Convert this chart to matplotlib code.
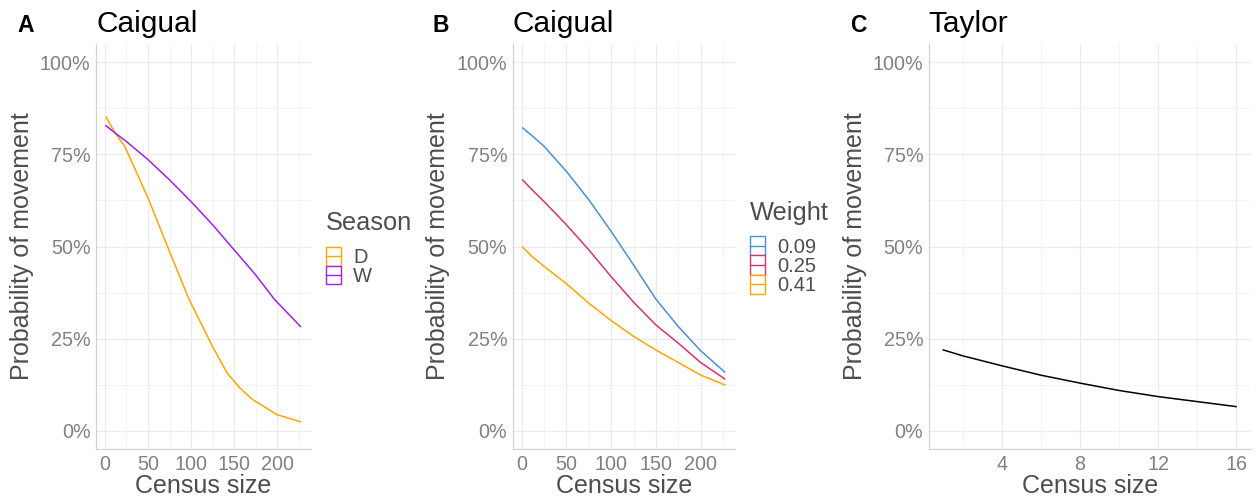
import matplotlib
matplotlib.use("Agg")
import matplotlib.pyplot as plt
from matplotlib.patches import Rectangle
from matplotlib.lines import Line2D
from matplotlib.ticker import FixedLocator, FuncFormatter

# ---- data -------------------------------------------------------------
# Panel A: Caigual, by season
census_a_dry = [1.2, 12, 23, 50, 75, 98, 125, 142, 157, 171, 200, 227]
prob_a_dry = [0.851, 0.808, 0.772, 0.632, 0.486, 0.355, 0.228, 0.156, 0.115, 0.085, 0.043, 0.024]
census_a_wet = [1.2, 12, 25, 50, 75, 100, 125, 150, 175, 197, 227]
prob_a_wet = [0.828, 0.808, 0.785, 0.736, 0.681, 0.622, 0.559, 0.491, 0.423, 0.356, 0.283]
season_labels = ["D", "W"]
season_colors = ["#FFA500", "#A020F0"]

# Panel B: Caigual, by weight
census_b = [1, 12, 25, 50, 75, 100, 125, 150, 175, 200, 227]
prob_b_009 = [0.822, 0.800, 0.772, 0.704, 0.627, 0.541, 0.450, 0.357, 0.283, 0.217, 0.159]
prob_b_025 = [0.681, 0.653, 0.622, 0.559, 0.491, 0.418, 0.349, 0.287, 0.2375, 0.185, 0.1405]
prob_b_041 = [0.498, 0.472, 0.446, 0.399, 0.346, 0.299, 0.256, 0.219, 0.185, 0.151, 0.124]
weight_labels = ["0.09", "0.25", "0.41"]
weight_colors = ["#4A90D2", "#D6336F", "#FFA500"]

# Panel C: Taylor
census_c = [1, 2, 4, 6, 8, 10, 12, 14, 16]
prob_c = [0.219, 0.203, 0.176, 0.1505, 0.129, 0.109, 0.0924, 0.0788, 0.0652]

y_major = [0, 0.25, 0.5, 0.75, 1.0]
y_minor = [0.125, 0.375, 0.625, 0.875]

# ---- styling ----------------------------------------------------------
plt.rcParams["font.family"] = ["Liberation Sans", "DejaVu Sans"]
W, H = 1256, 499
TICK_COL = "#808080"
TITLE_COL = "#4D4D4D"
GRID_MAJ = "#EBEBEB"
GRID_MIN = "#F3F3F3"
SPINE_COL = "#D3D3D3"

fig = plt.figure(figsize=(W / 100, H / 100), dpi=100)
fig.patch.set_facecolor("white")


def px_axes(x0, x1, y0, y1):
    return fig.add_axes([x0 / W, 1 - y1 / H, (x1 - x0) / W, (y1 - y0) / H])


def style(ax, xlim, xmaj, xmin):
    ax.set_xlim(*xlim)
    ax.set_ylim(-0.05, 1.05)
    ax.xaxis.set_major_locator(FixedLocator(xmaj))
    ax.xaxis.set_minor_locator(FixedLocator(xmin))
    ax.yaxis.set_major_locator(FixedLocator(y_major))
    ax.yaxis.set_minor_locator(FixedLocator(y_minor))
    ax.yaxis.set_major_formatter(FuncFormatter(lambda v, p: f"{v * 100:.0f}%"))
    ax.grid(which="major", color=GRID_MAJ, lw=0.9, zorder=0)
    ax.grid(which="minor", color=GRID_MIN, lw=0.7, zorder=0)
    ax.set_axisbelow(True)
    for s in ("top", "right"):
        ax.spines[s].set_visible(False)
    for s in ("left", "bottom"):
        ax.spines[s].set_color(SPINE_COL)
        ax.spines[s].set_linewidth(0.9)
    ax.tick_params(which="both", length=0, labelsize=14.2, labelcolor=TICK_COL)
    ax.tick_params(axis="y", pad=4)
    ax.tick_params(axis="x", pad=4)
    ax.set_facecolor("white")


def labels(ax_box, tag, tag_x, title):
    x0, x1, y0, y1 = ax_box
    fig.text(tag_x / W, 1 - 32 / H, tag, fontsize=16.5, fontweight="bold",
             color="black", ha="left", va="baseline")
    fig.text(x0 / W, 1 - 32 / H, title, fontsize=21.5, color="black",
             ha="left", va="baseline")
    fig.text((x0 + x1) / 2 / W, 1 - 493 / H, "Census size", fontsize=18,
             color=TITLE_COL, ha="center", va="baseline")


def ylab(xc, ax_box):
    x0, x1, y0, y1 = ax_box
    fig.text(xc / W, 1 - (y0 + y1) / 2 / H, "Probability of movement",
             fontsize=18, color=TITLE_COL, rotation=90, ha="center", va="center")


def draw_legend(title, names, colors, x, title_base, top, row_h, text_x):
    fig.text(x / W, 1 - title_base / H, title, fontsize=18.3, color=TITLE_COL,
             ha="left", va="baseline")
    kw = 15
    for i, (nm, c) in enumerate(zip(names, colors)):
        ytop = top + i * row_h
        fig.patches.append(Rectangle((x / W, 1 - (ytop + row_h) / H), kw / W, row_h / H,
                                     transform=fig.transFigure, facecolor="white",
                                     edgecolor=c, lw=1.0))
        yc = ytop + row_h / 2
        fig.lines.append(Line2D([x / W, (x + kw) / W], [1 - yc / H, 1 - yc / H],
                                transform=fig.transFigure, color=c, lw=1.0))
        fig.text(text_x / W, 1 - (yc + 7.2) / H, nm, fontsize=14.5, color=TITLE_COL,
                 ha="left", va="baseline")


# ---- panel A ----------------------------------------------------------
box_a = (96, 311, 44, 449)
ax_a = px_axes(*box_a)
style(ax_a, (-10.4, 239.3), [0, 50, 100, 150, 200], [25, 75, 125, 175, 225])
ax_a.plot(census_a_dry, prob_a_dry, color=season_colors[0], lw=1.1, zorder=3)
ax_a.plot(census_a_wet, prob_a_wet, color=season_colors[1], lw=1.1, zorder=3)
labels(box_a, "A", 17, "Caigual")
ylab(22, box_a)
draw_legend("Season", season_labels, season_colors, 325.5, 230, 247, 18.5, 353)

# ---- panel B ----------------------------------------------------------
box_b = (512.7, 735, 44, 449)
ax_b = px_axes(*box_b)
style(ax_b, (-10.1, 238.5), [0, 50, 100, 150, 200], [25, 75, 125, 175, 225])
for vals, c in zip([prob_b_009, prob_b_025, prob_b_041], weight_colors):
    ax_b.plot(census_b, vals, color=c, lw=1.1, zorder=3)
labels(box_b, "B", 433, "Caigual")
ylab(438, box_b)
draw_legend("Weight", weight_labels, weight_colors, 750, 220, 236, 19.3, 777.7)

# ---- panel C ----------------------------------------------------------
box_c = (928.7, 1250.7, 44, 449)
ax_c = px_axes(*box_c)
style(ax_c, (0.25, 16.75), [4, 8, 12, 16], [2, 6, 10, 14])
ax_c.plot(census_c, prob_c, color="black", lw=1.1, zorder=3)
labels(box_c, "C", 850, "Taylor")
ylab(855, box_c)

fig.savefig("out.png", dpi=100, facecolor="white")
